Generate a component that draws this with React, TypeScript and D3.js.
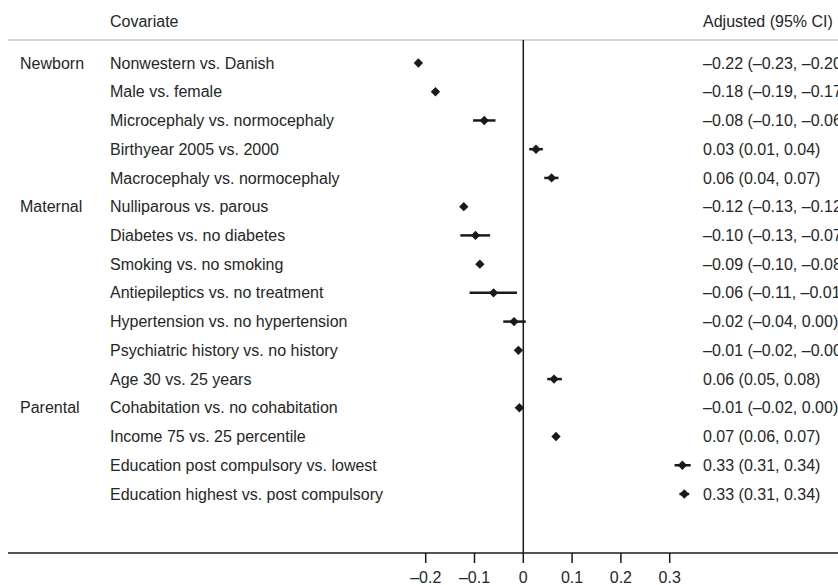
import React from "react";
import * as d3 from "d3";

const groups = ["Newborn", "", "", "", "", "Maternal", "", "", "", "", "", "", "Parental", "", "", ""];

const covariates = [
  "Nonwestern vs. Danish",
  "Male vs. female",
  "Microcephaly vs. normocephaly",
  "Birthyear 2005 vs. 2000",
  "Macrocephaly vs. normocephaly",
  "Nulliparous vs. parous",
  "Diabetes vs. no diabetes",
  "Smoking vs. no smoking",
  "Antiepileptics vs. no treatment",
  "Hypertension vs. no hypertension",
  "Psychiatric history vs. no history",
  "Age 30 vs. 25 years",
  "Cohabitation vs. no cohabitation",
  "Income 75 vs. 25 percentile",
  "Education post compulsory vs. lowest",
  "Education highest vs. post compulsory",
];

const estimates = [-0.215, -0.18, -0.08, 0.026, 0.058, -0.122, -0.098, -0.089, -0.061, -0.019, -0.01, 0.063, -0.008, 0.067, 0.326, 0.33];
const lower = [-0.22, -0.185, -0.103, 0.012, 0.043, -0.126, -0.129, -0.093, -0.11, -0.041, -0.014, 0.049, -0.012, 0.064, 0.31, 0.32];
const upper = [-0.21, -0.175, -0.057, 0.04, 0.072, -0.118, -0.068, -0.085, -0.013, 0.005, -0.006, 0.079, -0.004, 0.07, 0.343, 0.34];

const ciLabels = [
  "–0.22 (–0.23, –0.20)",
  "–0.18 (–0.19, –0.17)",
  "–0.08 (–0.10, –0.06)",
  "0.03 (0.01, 0.04)",
  "0.06 (0.04, 0.07)",
  "–0.12 (–0.13, –0.12)",
  "–0.10 (–0.13, –0.07)",
  "–0.09 (–0.10, –0.08)",
  "–0.06 (–0.11, –0.01)",
  "–0.02 (–0.04, 0.00)",
  "–0.01 (–0.02, –0.00)",
  "0.06 (0.05, 0.08)",
  "–0.01 (–0.02, 0.00)",
  "0.07 (0.06, 0.07)",
  "0.33 (0.31, 0.34)",
  "0.33 (0.31, 0.34)",
];

const tickValues = [-0.2, -0.1, 0, 0.1, 0.2, 0.3];
const tickLabels = ["–0.2", "–0.1", "0", "0.1", "0.2", "0.3"];

const App = () => {
  const width = 838;
  const height = 585;

  const x = d3.scaleLinear().domain([-0.2, 0.3]).range([425.7, 669.7]);
  const y = d3.scalePoint().domain(covariates).range([63, 494]);

  const axisY = 553;
  const textColor = "#262626";
  const font = "'Liberation Sans', Arial, Helvetica, sans-serif";

  // small diamond marker
  const diamond = d3.symbol().type(d3.symbolDiamond2).size(56);

  return (
    <svg
      width={width}
      height={height}
      style={{ position: "absolute", left: 0, top: 0, background: "#fff" }}
      fontFamily={font}
      fontSize={16}
    >
      {/* header */}
      <text x={110} y={21} dy="0.35em" fill={textColor}>Covariate</text>
      <text x={703} y={21} dy="0.35em" fill={textColor}>Adjusted (95% CI)</text>
      <line x1={8} x2={width} y1={40} y2={40} stroke="#c8c8c8" strokeWidth={1.5} />

      {/* zero line */}
      <line x1={x(0)} x2={x(0)} y1={40} y2={axisY} stroke="#1a1a1a" strokeWidth={1.5} />

      {covariates.map((c, i) => {
        const yy = y(c) as number;
        return (
          <g key={c}>
            {groups[i] && (
              <text x={20} y={yy} dy="0.35em" fill={textColor}>{groups[i]}</text>
            )}
            <text x={110} y={yy} dy="0.35em" fill={textColor}>{c}</text>
            <text x={703} y={yy} dy="0.35em" fill={textColor}>{ciLabels[i]}</text>
            <line x1={x(lower[i])} x2={x(upper[i])} y1={yy} y2={yy} stroke="#1a1a1a" strokeWidth={2.5} />
            <path d={diamond() as string} transform={`translate(${x(estimates[i])},${yy})`} fill="#1a1a1a" />
          </g>
        );
      })}

      {/* bottom axis */}
      <line x1={8} x2={width} y1={axisY} y2={axisY} stroke="#1a1a1a" strokeWidth={1.5} />
      {tickValues.map((t, i) => (
        <g key={t} transform={`translate(${x(t)},0)`}>
          <line y1={axisY} y2={axisY + 10} stroke="#1a1a1a" strokeWidth={1.5} />
          <text y={577} dy="0.35em" textAnchor="middle" fill={textColor}>{tickLabels[i]}</text>
        </g>
      ))}
    </svg>
  );
};

export default App;
